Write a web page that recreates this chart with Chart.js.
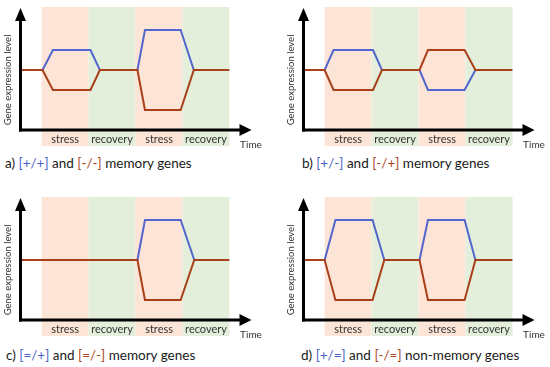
<!DOCTYPE html>
<html>
<head>
<meta charset="utf-8">
<script src="https://cdn.jsdelivr.net/npm/chart.js@4.4.1/dist/chart.umd.min.js"></script>
<style>
  html, body { margin: 0; padding: 0; background: #fff; }
  body { width: 550px; height: 367px; position: relative; overflow: hidden; font-family: Lato, "Open Sans", sans-serif; }
  .panel { position: absolute; width: 270px; height: 150px; }
  .caption { position: absolute; font-size: 13.5px; line-height: 16px; color: #1a1a1a; white-space: nowrap; }
  .up { color: #4a5fc4; }
  .down { color: #a8471c; }
</style>
</head>
<body>
<div class="panel" style="left:0;top:0"><canvas id="chartA"></canvas></div>
<div class="panel" style="left:283px;top:0"><canvas id="chartB"></canvas></div>
<div class="panel" style="left:0;top:190px"><canvas id="chartC"></canvas></div>
<div class="panel" style="left:283px;top:190px"><canvas id="chartD"></canvas></div>

<div class="caption" style="left:5px;top:155px">a) <span class="up">[+/+]</span> and <span class="down">[-/-]</span> memory genes</div>
<div class="caption" style="left:302px;top:155px">b) <span class="up">[+/-]</span> and <span class="down">[-/+]</span> memory genes</div>
<div class="caption" style="left:6px;top:347px">c) <span class="up">[=/+]</span> and <span class="down">[=/-]</span> memory genes</div>
<div class="caption" style="left:301px;top:347px">d) <span class="up">[+/=]</span> and <span class="down">[-/=]</span> non-memory genes</div>

<script>
// Phases along the time axis (edges in time units)
const bandEdges = [0.45, 1.45, 2.45, 3.45, 4.45];
const phaseLabels = ["stress", "recovery", "stress", "recovery"];
const xTitle = "Time";
const yTitle = "Gene expression level";

// a) [+/+] and [-/-]
const timeA = [0, 0.47, 0.69, 1.49, 1.69, 2.49, 2.65, 3.41, 3.69, 4.45];
const blueA = [0, 0, 1, 1, 0, 0, 2, 2, 0, 0];
const redA = [0, 0, -1, -1, 0, 0, -2, -2, 0, 0];

// b) [+/-] and [-/+]
const timeB = [0, 0.45, 0.64, 1.48, 1.67, 2.47, 2.65, 3.43, 3.66, 4.45];
const blueB = [0, 0, 1, 1, 0, 0, -1, -1, 0, 0];
const redB = [0, 0, -1, -1, 0, 0, 1, 1, 0, 0];

// c) [=/+] and [=/-]
const timeC = [0, 2.49, 2.65, 3.41, 3.7, 4.45];
const blueC = [0, 0, 2, 2, 0, 0];
const redC = [0, 0, -2, -2, 0, 0];

// d) [+/=] and [-/=]
const timeD = [0, 0.45, 0.68, 1.47, 1.72, 2.47, 2.65, 3.43, 3.66, 4.45];
const blueD = [0, 0, 2, 2, 0, 0, 2, 2, 0, 0];
const redD = [0, 0, -2, -2, 0, 0, -2, -2, 0, 0];

const STRESS = "#fce4d6";
const RECOVERY = "#e3efda";
const BLUE = "#5266cc";
const RED = "#a8401a";

// Background phases, axis arrows and labels
const schematic = {
  id: "schematic",
  beforeDatasetsDraw(chart) {
    const { ctx, chartArea: a, scales } = chart;
    const x = scales.x;
    ctx.save();
    for (let i = 0; i < phaseLabels.length; i++) {
      const x0 = x.getPixelForValue(bandEdges[i]);
      const x1 = x.getPixelForValue(bandEdges[i + 1]);
      ctx.fillStyle = i % 2 ? RECOVERY : STRESS;
      ctx.fillRect(x0, a.top - 3, x1 - x0, a.bottom - a.top + 19);
    }
    ctx.restore();
  },
  afterDatasetsDraw(chart) {
    const { ctx, chartArea: a, scales } = chart;
    const x = scales.x;
    ctx.save();
    ctx.strokeStyle = "#000";
    ctx.fillStyle = "#000";
    ctx.lineWidth = 3;
    // y axis
    ctx.beginPath();
    ctx.moveTo(a.left, a.bottom + 1.5);
    ctx.lineTo(a.left, a.top + 10);
    ctx.stroke();
    ctx.beginPath();
    ctx.moveTo(a.left, a.top - 2);
    ctx.lineTo(a.left - 5.5, a.top + 11);
    ctx.lineTo(a.left + 5.5, a.top + 11);
    ctx.closePath();
    ctx.fill();
    // x axis
    ctx.beginPath();
    ctx.moveTo(a.left - 1.5, a.bottom);
    ctx.lineTo(a.right + 11, a.bottom);
    ctx.stroke();
    ctx.beginPath();
    ctx.moveTo(a.right + 22, a.bottom);
    ctx.lineTo(a.right + 10, a.bottom - 6);
    ctx.lineTo(a.right + 10, a.bottom + 6);
    ctx.closePath();
    ctx.fill();

    // phase labels
    ctx.fillStyle = "#333";
    ctx.font = "11px Lato, sans-serif";
    ctx.textAlign = "center";
    ctx.textBaseline = "middle";
    for (let i = 0; i < phaseLabels.length; i++) {
      const cx = (x.getPixelForValue(bandEdges[i]) + x.getPixelForValue(bandEdges[i + 1])) / 2;
      ctx.fillText(phaseLabels[i], cx, a.bottom + 9.5);
    }
    ctx.font = "10px Lato, sans-serif";
    ctx.fillText(xTitle, a.right + 21.5, a.bottom + 14.5);

    // y title
    ctx.translate(a.left - 12.5, a.top + 70);
    ctx.rotate(-Math.PI / 2);
    ctx.font = "9.5px Lato, sans-serif";
    ctx.fillText(yTitle, 0, 0);
    ctx.restore();
  },
};

function makeChart(id, time, blue, red) {
  const ctx = document.getElementById(id).getContext("2d");
  return new Chart(ctx, {
    type: "line",
    data: {
      datasets: [
        {
          data: time.map((t, i) => ({ x: t, y: blue[i] })),
          borderColor: BLUE,
          borderWidth: 2,
          order: 1, // drawn under the red line
        },
        {
          data: time.map((t, i) => ({ x: t, y: red[i] })),
          borderColor: RED,
          borderWidth: 2,
          order: 0,
        },
      ],
    },
    options: {
      responsive: true,
      maintainAspectRatio: false,
      animation: false,
      layout: { padding: { left: 20.5, top: 10, right: 40.5, bottom: 20 } },
      plugins: { legend: { display: false }, tooltip: { enabled: false } },
      elements: { point: { radius: 0 }, line: { tension: 0 } },
      scales: {
        x: { type: "linear", min: 0, max: 4.45, display: false },
        y: { min: -3, max: 3, display: false },
      },
    },
    plugins: [schematic],
  });
}

makeChart("chartA", timeA, blueA, redA);
makeChart("chartB", timeB, blueB, redB);
makeChart("chartC", timeC, blueC, redC);
makeChart("chartD", timeD, blueD, redD);
</script>
</body>
</html>
